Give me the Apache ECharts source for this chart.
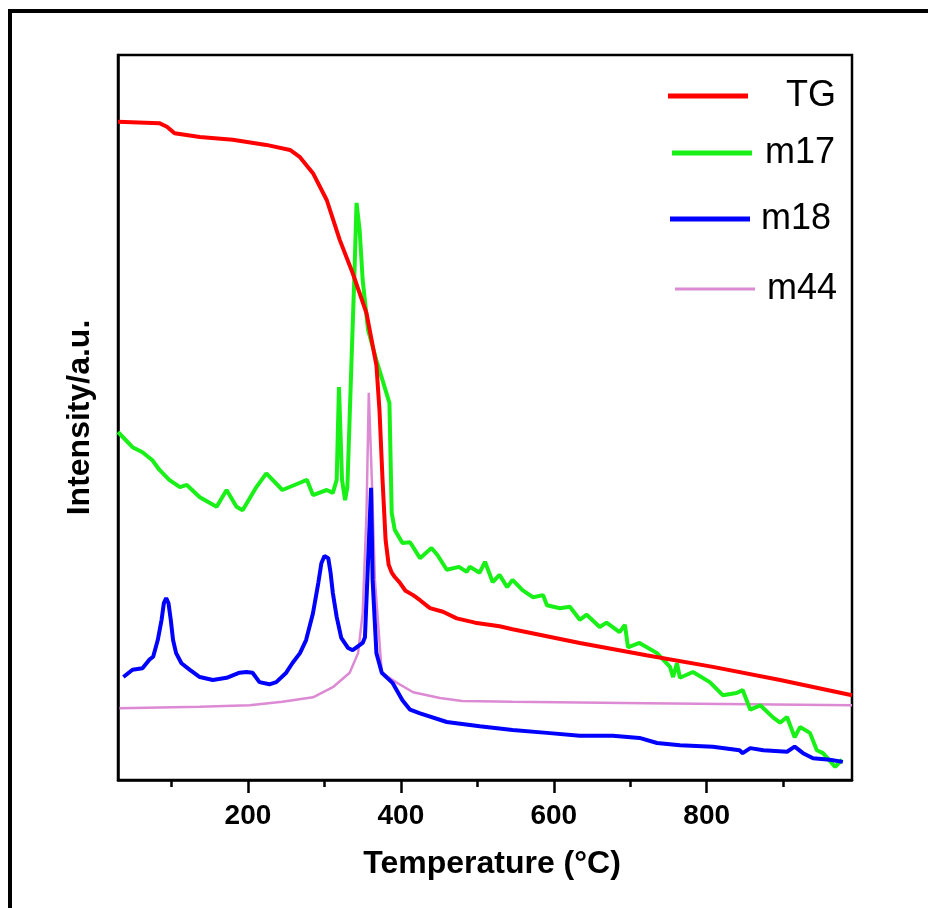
<!DOCTYPE html>
<html>
<head>
<meta charset="utf-8">
<script src="https://cdn.jsdelivr.net/npm/echarts@6/dist/echarts.min.js"></script>
<style>
html,body{margin:0;padding:0;background:#fff;}
#chart{width:928px;height:908px;}
</style>
</head>
<body>
<div id="chart"></div>
<script>
// ---- Data (temperature in °C, intensity in arbitrary units 0-100) ----
var seriesNames = ['TG', 'm17', 'm18', 'm44'];

var tgT = [30, 84, 94, 104, 137, 180, 224, 255, 268, 285, 303, 320, 337, 355, 368, 372, 376, 380, 384, 388, 392, 398, 406, 416, 425, 438, 455, 473, 497, 529, 546, 634, 721, 808, 896, 990];
var tgV = [90.8, 90.6, 90.1, 89.2, 88.7, 88.3, 87.6, 86.9, 85.9, 83.7, 80.0, 74.5, 69.9, 64.4, 57.2, 51.0, 41.4, 33.1, 29.7, 28.6, 28.0, 27.3, 26.1, 25.5, 24.8, 23.7, 23.2, 22.3, 21.7, 21.2, 20.8, 18.9, 17.2, 15.6, 13.8, 11.7];

var m17T = [30, 49, 62, 75, 84, 97, 111, 120, 137, 159, 172, 185, 193, 211, 224, 245, 268, 277, 285, 303, 311, 316, 319, 323, 327, 330, 336, 339, 342, 346, 350, 357, 368, 381, 385, 388, 392, 402, 412, 425, 440, 448, 460, 476, 486, 490, 503, 510, 520, 529, 539, 546, 559, 573, 586, 591, 608, 621, 634, 643, 660, 669, 686, 693, 697, 712, 735, 752, 756, 761, 765, 782, 804, 821, 839, 847, 857, 870, 887, 896, 905, 915, 922, 935, 944, 952, 968, 977];
var m17V = [48.0, 45.9, 45.2, 44.1, 42.8, 41.4, 40.4, 40.7, 39.0, 37.7, 40.0, 37.7, 37.2, 40.4, 42.3, 40.0, 41.0, 41.4, 39.3, 40.0, 39.6, 41.4, 54.2, 41.4, 38.6, 40.4, 59.7, 69.0, 79.6, 75.9, 69.0, 62.1, 57.9, 53.4, 52.0, 36.8, 34.5, 32.7, 32.8, 30.6, 32.0, 31.0, 29.0, 29.4, 28.7, 29.4, 28.6, 30.1, 27.3, 28.3, 26.6, 27.6, 26.2, 25.2, 25.5, 24.1, 23.7, 23.9, 22.1, 22.8, 21.1, 21.7, 20.4, 21.4, 18.3, 18.9, 17.5, 15.6, 14.2, 16.1, 14.1, 14.9, 13.5, 11.7, 12.0, 12.4, 9.7, 10.3, 8.6, 7.9, 8.7, 5.9, 7.3, 6.5, 4.1, 3.7, 1.8, 2.8];

var m18T = [37, 49, 62, 71, 76, 82, 87, 90, 93, 96, 99, 102, 106, 113, 124, 137, 154, 172, 189, 198, 206, 215, 228, 237, 250, 258, 268, 276, 285, 292, 296, 300, 305, 308, 311, 316, 322, 331, 337, 350, 353, 361, 363, 368, 375, 389, 402, 412, 425, 460, 503, 546, 591, 634, 677, 712, 735, 765, 808, 843, 847, 857, 874, 905, 915, 926, 939, 961, 978];
var m18V = [14.2, 15.2, 15.4, 16.6, 17.0, 19.3, 22.1, 24.4, 25.1, 24.4, 22.1, 19.3, 17.5, 16.1, 15.2, 14.2, 13.8, 14.1, 14.8, 14.9, 14.8, 13.5, 13.2, 13.5, 14.8, 16.1, 17.5, 19.3, 23.0, 27.2, 29.9, 30.9, 30.6, 28.6, 25.8, 22.5, 19.6, 18.2, 17.9, 18.9, 19.7, 40.3, 27.6, 17.5, 14.8, 13.4, 11.0, 9.7, 9.2, 8.0, 7.4, 6.9, 6.5, 6.1, 6.1, 5.8, 5.1, 4.8, 4.6, 4.1, 3.7, 4.4, 4.1, 3.9, 4.6, 3.7, 3.0, 2.8, 2.5];

var m44T = [32, 137, 202, 245, 285, 311, 333, 344, 350, 355, 358, 362, 366, 375, 395, 416, 451, 480, 546, 721, 990];
var m44V = [9.9, 10.1, 10.3, 10.8, 11.4, 12.8, 14.8, 17.5, 23.0, 36.8, 53.4, 41.4, 27.6, 14.8, 13.4, 12.1, 11.3, 10.9, 10.8, 10.6, 10.3];

var xLabelTicks = [200, 400, 600, 800];
var xMinorTicks = [100, 300, 500, 700, 900];
var xMin = 30, xMax = 990;

function zip(a, b) { return a.map(function (x, i) { return [x, b[i]]; }); }

var FONT = '"Liberation Sans", Arial, sans-serif';
var colors = ['#ff0000', '#18f018', '#0000ff', '#dc8ad4'];

var chart = echarts.init(document.getElementById('chart'), null, { renderer: 'canvas' });

function legendFor(name, left, centerY, padLeft, h) {
  return {
    data: [name], left: left, top: centerY - 20, orient: 'vertical', padding: 0,
    icon: 'rect', itemWidth: 80, itemHeight: h, selectedMode: false,
    textStyle: { fontFamily: FONT, fontSize: 36, color: '#000', padding: [4, 0, 0, padLeft], lineHeight: 40 }
  };
}

var option = {
  backgroundColor: '#fff',
  animation: false,
  graphic: [{
    type: 'rect', silent: true, z: 100,
    shape: { x: 10, y: 11, width: 1000, height: 1000 },
    style: { fill: 'none', stroke: '#000', lineWidth: 4 }
  }],
  legend: [
    legendFor('TG', 668, 94, 33, 5),
    legendFor('m17', 672, 151, 8, 5),
    legendFor('m18', 670, 217, 6, 5),
    legendFor('m44', 675, 287, 7, 3)
  ],
  grid: { left: 118, top: 55, width: 734, height: 725, show: true, borderColor: '#000', borderWidth: 2.5, backgroundColor: 'transparent' },
  xAxis: [{
    type: 'value', min: xMin, max: xMax,
    name: 'Temperature (°C)', nameLocation: 'middle', nameGap: 68,
    nameTextStyle: { fontFamily: FONT, fontSize: 32, fontWeight: 'bold', color: '#000', padding: [0, 0, 0, 14] },
    axisLine: { show: true, lineStyle: { color: '#000', width: 2.5 } },
    axisTick: { show: true, customValues: xLabelTicks, length: 13, lineStyle: { color: '#000', width: 2.5 } },
    axisLabel: { show: true, customValues: xLabelTicks, margin: 22, fontFamily: FONT, fontSize: 28, fontWeight: 'bold', color: '#000' },
    splitLine: { show: false }
  }, {
    type: 'value', min: xMin, max: xMax, position: 'bottom', gridIndex: 0,
    axisLine: { show: false },
    axisTick: { show: true, customValues: xMinorTicks, length: 7, lineStyle: { color: '#000', width: 2.5 } },
    axisLabel: { show: false },
    splitLine: { show: false }
  }],
  yAxis: {
    type: 'value', min: 0, max: 100,
    name: 'Intensity/a.u.', nameLocation: 'middle', nameGap: 22,
    nameTextStyle: { fontFamily: FONT, fontSize: 32, fontWeight: 'bold', color: '#000' },
    axisLine: { show: true, lineStyle: { color: '#000', width: 2.5 } },
    axisTick: { show: false }, axisLabel: { show: false }, splitLine: { show: false }
  },
  series: [
    { name: 'TG', type: 'line', data: zip(tgT, tgV), symbol: 'none', color: colors[0], lineStyle: { width: 4, color: colors[0] }, z: 5 },
    { name: 'm17', type: 'line', data: zip(m17T, m17V), symbol: 'none', color: colors[1], lineStyle: { width: 4, color: colors[1] }, z: 3 },
    { name: 'm18', type: 'line', data: zip(m18T, m18V), symbol: 'none', color: colors[2], lineStyle: { width: 4, color: colors[2] }, z: 4 },
    { name: 'm44', type: 'line', data: zip(m44T, m44V), symbol: 'none', color: colors[3], lineStyle: { width: 2.5, color: colors[3] }, z: 2 }
  ]
};
chart.setOption(option);
</script>
</body>
</html>
